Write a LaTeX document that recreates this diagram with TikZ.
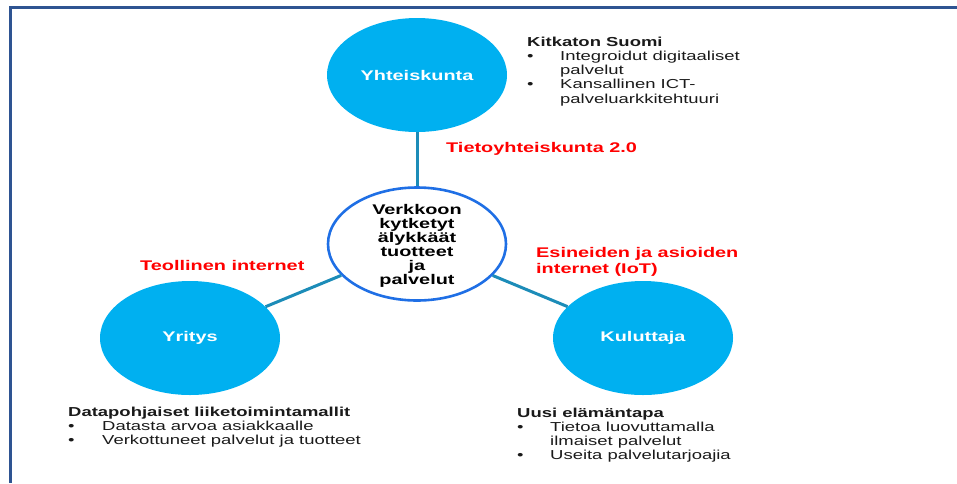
\documentclass[tikz,border=0pt]{standalone}
\usepackage{fontspec}
\setmainfont{Liberation Sans}
\newfontfamily\wf[FakeStretch=1.42]{Liberation Sans}
\usetikzlibrary{shapes.geometric}
\definecolor{cyanfill}{HTML}{00B0F0}
\definecolor{hubblue}{HTML}{1F6FE5}
\definecolor{linkteal}{HTML}{1C8CB8}
\definecolor{framebl}{HTML}{2E5492}
\definecolor{txtdark}{HTML}{1A1A1A}
\tikzset{
  bubble/.style={ellipse, fill=cyanfill, draw=none, minimum width=180pt, minimum height=114pt, inner sep=0pt,
    text=white, font=\wf\bfseries\fontsize{14}{14}\selectfont},
  hubshape/.style={ellipse, draw=hubblue, line width=2.6pt, fill=white, minimum width=178pt, minimum height=113pt, inner sep=0pt},
  hubtext/.style={inner sep=0pt, align=center, text=black, font=\wf\bfseries\fontsize{14}{14}\selectfont},
  link/.style={draw=linkteal, line width=3pt},
  redlbl/.style={text=red, font=\wf\bfseries\fontsize{14}{16}\selectfont, inner sep=0pt, anchor=base west},
  blocktxt/.style={text=txtdark, font=\wf\fontsize{13}{14.3}\selectfont, inner sep=0pt, anchor=base west},
  frameline/.style={draw=framebl, line width=2.5pt}
}
\begin{document}
\begin{tikzpicture}[x=1pt,y=-1pt]
\useasboundingbox (0,0) rectangle (957,483);
% frame
\coordinate (ftl) at (10.5,7.5);
\coordinate (ftr) at (957,7.5);
\coordinate (fbl) at (10.5,483);
\draw[frameline] (ftr) -- (ftl) -- (fbl);

% bubbles
\node[bubble] (soc) at (417,75) {Yhteiskunta};
\node[bubble] (yri) at (190,338) {Yritys};
\node[bubble] (kul) at (643,338) {Kuluttaja};
\node[hubshape] (hub) at (417,244) {};
\node[hubtext] (hubtxt) at (417,246) {Verkkoon\\kytketyt\\älykkäät\\tuotteet\\ja\\palvelut};

% links
\draw[link] (soc) -- (hub);
\draw[link] (hub) -- (yri);
\draw[link] (hub) -- (kul);

% red labels
\node[redlbl] (lblsoc) at (446,152) {Tietoyhteiskunta 2.0};
\node[redlbl] (lblyri) at (140,270) {Teollinen internet};
\node[redlbl] (lblkul) at (536,257) {\begin{tabular}[t]{@{}l@{}}Esineiden ja asioiden\\internet (IoT)\end{tabular}};

% text blocks
\node[blocktxt] (blksoc) at (527,46) {\begin{tabular}[t]{@{}p{33pt}@{}l@{}}
\multicolumn{2}{@{}l@{}}{\bfseries Kitkaton Suomi}\\
•&Integroidut digitaaliset\\
&palvelut\\
•&Kansallinen ICT-\\
&palveluarkkitehtuuri
\end{tabular}};

\node[blocktxt] (blkyri) at (68,416) {\begin{tabular}[t]{@{}p{34pt}@{}l@{}}
\multicolumn{2}{@{}l@{}}{\bfseries Datapohjaiset liiketoimintamallit}\\
•&Datasta arvoa asiakkaalle\\
•&Verkottuneet palvelut ja tuotteet
\end{tabular}};

\node[blocktxt] (blkkul) at (517,417) {\begin{tabular}[t]{@{}p{33pt}@{}l@{}}
\multicolumn{2}{@{}l@{}}{\bfseries Uusi elämäntapa}\\
•&Tietoa luovuttamalla\\
&ilmaiset palvelut\\
•&Useita palvelutarjoajia
\end{tabular}};
\end{tikzpicture}
\end{document}
